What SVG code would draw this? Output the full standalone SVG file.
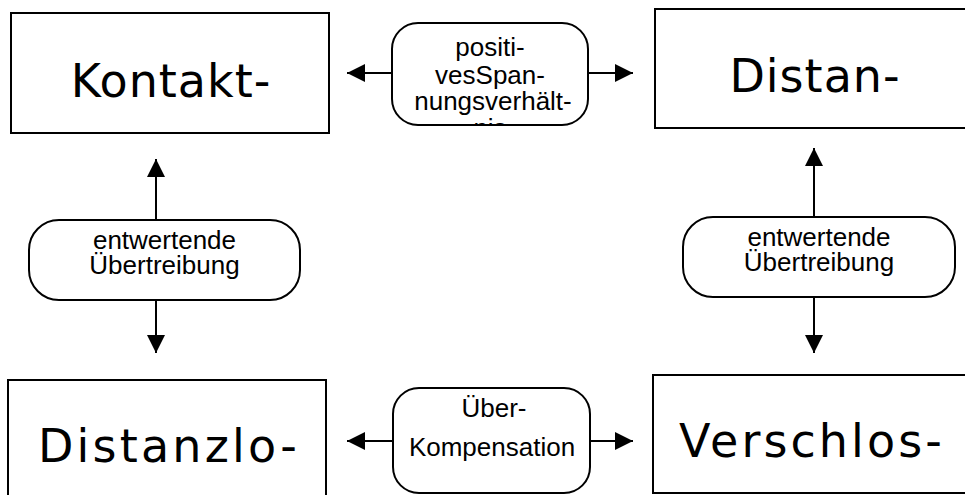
<svg xmlns="http://www.w3.org/2000/svg" width="965" height="495" viewBox="0 0 965 495">
<style>
.box{fill:#fff;stroke:#000;stroke-width:2}
.big{font-family:"DejaVu Sans",Verdana,sans-serif;font-size:46px;fill:#000;text-anchor:middle}
.sm{font-family:"Liberation Sans",Arial,Helvetica,sans-serif;font-size:26px;fill:#000;text-anchor:middle}
.ln{stroke:#000;stroke-width:2;fill:none}
</style>
<defs>
<marker id="ah" viewBox="0 0 10 10" refX="10" refY="5" markerWidth="9" markerHeight="9" markerUnits="userSpaceOnUse" orient="auto">
<path d="M0,0 L10,5 L0,10 z" fill="#000"/>
</marker>
<marker id="ahb" viewBox="0 0 10 10" refX="10" refY="5" markerWidth="18" markerHeight="18" markerUnits="userSpaceOnUse" orient="auto">
<path d="M0,0 L10,5 L0,10 z" fill="#000"/>
</marker>
<clipPath id="c1"><rect x="393" y="24" width="194" height="100" rx="25"/></clipPath>
</defs>
<g id="connectors">
<line class="ln" x1="392" y1="73" x2="347" y2="73" marker-end="url(#ahb)"/>
<line class="ln" x1="588" y1="73" x2="633" y2="73" marker-end="url(#ahb)"/>
<line class="ln" x1="393" y1="441" x2="347" y2="441" marker-end="url(#ahb)"/>
<line class="ln" x1="590" y1="441" x2="633" y2="441" marker-end="url(#ahb)"/>
<line class="ln" x1="156" y1="220" x2="156" y2="159" marker-end="url(#ahb)"/>
<line class="ln" x1="156" y1="300" x2="156" y2="353" marker-end="url(#ahb)"/>
<line class="ln" x1="814" y1="217" x2="814" y2="148" marker-end="url(#ahb)"/>
<line class="ln" x1="814" y1="297" x2="814" y2="353" marker-end="url(#ahb)"/>
</g>
<g id="kontakt">
<rect class="box" x="11" y="13" width="318" height="120"/>
<text class="big" x="171" y="97" letter-spacing="1">Kontakt-</text>
</g>
<g id="distan">
<rect class="box" x="655" y="9" width="330" height="119"/>
<text class="big" x="815" y="92" letter-spacing="1">Distan-</text>
</g>
<g id="distanzlo">
<rect class="box" x="8" y="380" width="318" height="130"/>
<text class="big" x="169" y="462" letter-spacing="3.2">Distanzlo-</text>
</g>
<g id="verschlos">
<rect class="box" x="653" y="375" width="330" height="118"/>
<text class="big" x="812" y="457" letter-spacing="3.1">Verschlos-</text>
</g>
<g id="spannung">
<rect class="box" x="392" y="23" width="196" height="102" rx="26"/>
<g clip-path="url(#c1)">
<text class="sm" x="490" y="56" font-size="27">positi-</text>
<text class="sm" x="490" y="84" font-size="27">vesSpan-</text>
<text class="sm" x="493" y="110" font-size="27">nungsverhält-</text>
<text class="sm" x="490" y="137" font-size="27">nis</text>
</g>
</g>
<g id="uebertreibung-links">
<rect class="box" x="29" y="220" width="271" height="80" rx="30"/>
<text class="sm" x="164.5" y="249">entwertende</text>
<text class="sm" x="164.5" y="274">Übertreibung</text>
</g>
<g id="uebertreibung-rechts">
<rect class="box" x="683" y="217" width="272" height="80" rx="30"/>
<text class="sm" x="819" y="246">entwertende</text>
<text class="sm" x="819" y="271">Übertreibung</text>
</g>
<g id="ueberkompensation">
<rect class="box" x="393" y="388" width="197" height="105" rx="26"/>
<text class="sm" x="494" y="417">Über-</text>
<text class="sm" x="492" y="456">Kompensation</text>
</g>
</svg>
